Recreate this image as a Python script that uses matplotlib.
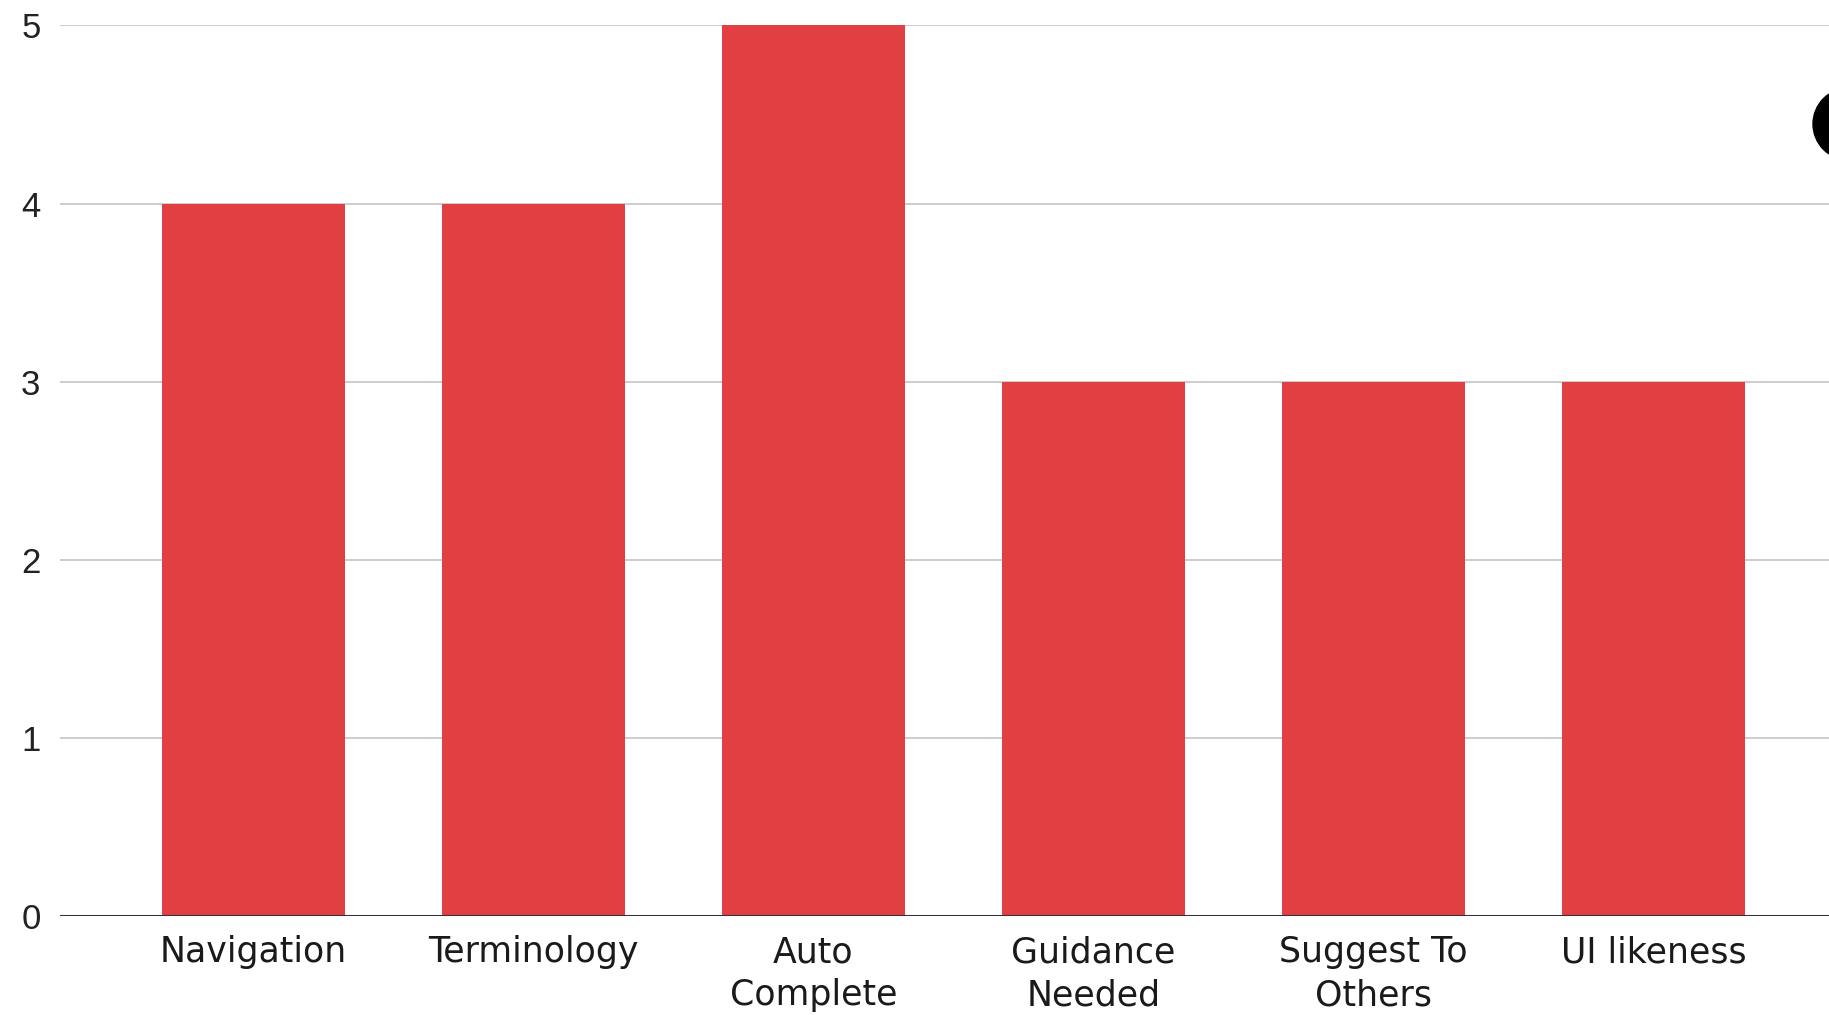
import matplotlib
matplotlib.use("Agg")
import matplotlib.pyplot as plt
from matplotlib.patches import Ellipse

categories = ["Navigation", "Terminology", "Auto\nComplete", "Guidance\nNeeded", "Suggest To\nOthers", "UI likeness"]
values = [4, 4, 5, 3, 3, 3]
yticks = [0, 1, 2, 3, 4, 5]

plt.rcParams['font.family'] = ['Liberation Sans', 'DejaVu Sans']

fig = plt.figure(figsize=(18.29, 10.15), dpi=100)
ax = fig.add_axes([0.0328, 0.0975, 0.9672, 0.8775])

x = list(range(len(categories)))
ax.bar(x, values, width=0.654, color="#E13F41", zorder=3)

ax.set_xlim(-0.691, 5.627)
ax.set_ylim(0, 5)
ax.set_yticks(yticks)
ax.set_yticklabels([str(t) for t in yticks])
ax.set_xticks(x)
ax.set_xticklabels(categories, linespacing=1.32, family=['DejaVu Sans'])

ax.grid(axis='y', color='#cccccc', linewidth=1.4, zorder=0)
ax.axhline(0, color='#333333', linewidth=2.2, zorder=4)
for s in ax.spines.values():
    s.set_visible(False)

ax.tick_params(axis='y', length=0, pad=14, labelsize=25, labelcolor='#222222')
ax.tick_params(axis='x', length=0, pad=14, labelsize=25, labelcolor='#1a1a1a')

# partial black circle at right edge
circ = Ellipse((1849 / 1829, (1015 - 124) / 1015), 72 / 1829, 72 / 1015,
               transform=fig.transFigure, color='black', clip_on=False)
fig.patches.append(circ)

fig.savefig("out.png", dpi=100)
